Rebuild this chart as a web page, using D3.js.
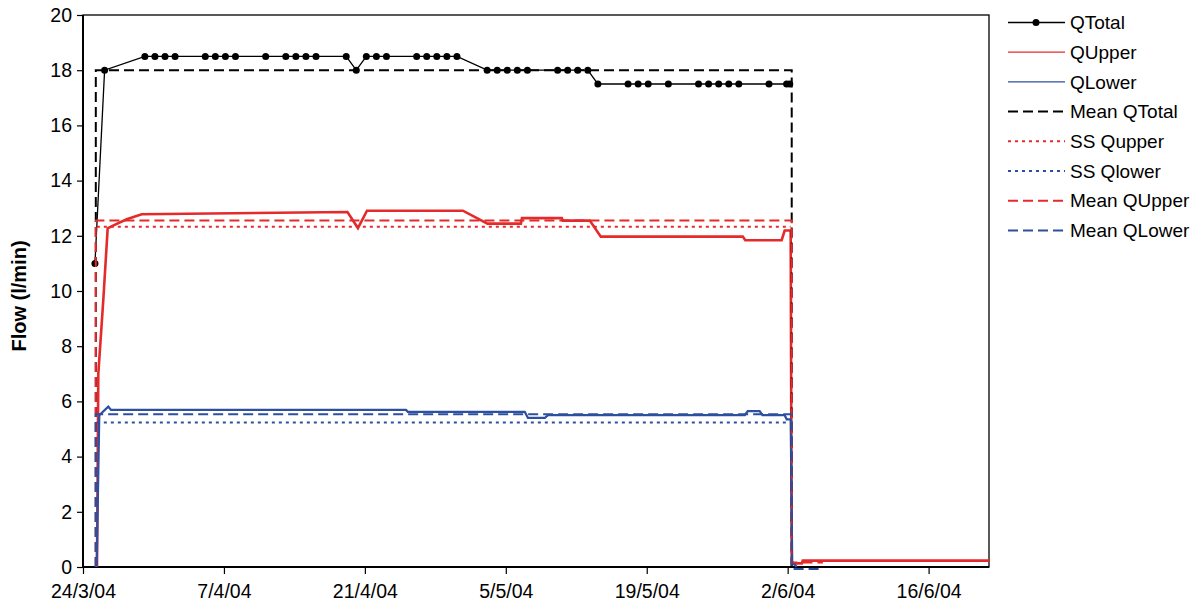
<!DOCTYPE html>
<html>
<head>
<meta charset="utf-8">
<script src="https://cdn.jsdelivr.net/npm/d3@7"></script>
<style>
  body { margin: 0; background: #fff; }
  text { font-family: "Liberation Sans", Arial, sans-serif; fill: #000; }
</style>
</head>
<body>
<div id="chart"></div>
<script>
// readings (date time, l/min)
const qTotal = [
  ["2004-03-25 04:30", 11.0], ["2004-03-26 03:30", 18.0], ["2004-03-30 03:30", 18.5],
  ["2004-03-31 03:30", 18.5], ["2004-04-01 03:30", 18.5], ["2004-04-02 03:30", 18.5],
  ["2004-04-05 03:30", 18.5], ["2004-04-06 03:30", 18.5], ["2004-04-07 03:30", 18.5],
  ["2004-04-08 03:30", 18.5], ["2004-04-11 03:30", 18.5], ["2004-04-13 03:30", 18.5],
  ["2004-04-14 03:30", 18.5], ["2004-04-15 03:30", 18.5], ["2004-04-16 03:30", 18.5],
  ["2004-04-19 03:30", 18.5], ["2004-04-20 03:30", 18.0], ["2004-04-21 03:30", 18.5],
  ["2004-04-22 03:30", 18.5], ["2004-04-23 03:30", 18.5], ["2004-04-26 03:30", 18.5],
  ["2004-04-27 03:30", 18.5], ["2004-04-28 03:30", 18.5], ["2004-04-29 03:30", 18.5],
  ["2004-04-30 03:30", 18.5], ["2004-05-03 03:30", 18.0], ["2004-05-04 03:30", 18.0],
  ["2004-05-05 03:30", 18.0], ["2004-05-06 03:30", 18.0], ["2004-05-07 03:30", 18.0],
  ["2004-05-10 03:30", 18.0], ["2004-05-11 03:30", 18.0], ["2004-05-12 03:30", 18.0],
  ["2004-05-13 03:30", 18.0], ["2004-05-14 03:30", 17.5], ["2004-05-17 03:30", 17.5],
  ["2004-05-18 03:30", 17.5], ["2004-05-19 03:30", 17.5], ["2004-05-21 03:30", 17.5],
  ["2004-05-24 03:30", 17.5], ["2004-05-25 03:30", 17.5], ["2004-05-26 03:30", 17.5],
  ["2004-05-27 03:30", 17.5], ["2004-05-28 03:30", 17.5], ["2004-05-31 03:30", 17.5],
  ["2004-06-01 21:30", 17.5], ["2004-06-02 05:00", 17.5]
];

const qUpper = [
  ["2004-03-25 09:20", 0], ["2004-03-25 12:30", 7.0], ["2004-03-26 00:30", 9.7],
  ["2004-03-26 10:50", 12.27], ["2004-03-26 23:30", 12.37], ["2004-03-28 08:10", 12.6],
  ["2004-03-29 20:00", 12.78], ["2004-04-19 06:30", 12.86], ["2004-04-20 07:30", 12.28],
  ["2004-04-21 05:00", 12.91], ["2004-04-30 17:45", 12.91], ["2004-05-03 04:20", 12.44],
  ["2004-05-06 12:00", 12.44], ["2004-05-06 14:30", 12.64], ["2004-05-10 13:40", 12.64],
  ["2004-05-10 16:00", 12.55], ["2004-05-13 08:20", 12.55], ["2004-05-14 10:30", 11.97],
  ["2004-05-28 13:00", 11.97], ["2004-05-28 19:00", 11.84], ["2004-06-01 09:40", 11.84],
  ["2004-06-01 16:50", 12.19], ["2004-06-02 07:10", 12.19], ["2004-06-02 09:40", 0.1],
  ["2004-06-02 21:40", 0.13], ["2004-06-03 09:40", 0.13], ["2004-06-03 12:00", 0.23],
  ["2004-06-22 01:40", 0.23]
];

const qLower = [
  ["2004-03-25 08:40", 0], ["2004-03-25 14:50", 5.5], ["2004-03-26 12:15", 5.81],
  ["2004-03-26 18:40", 5.69], ["2004-04-25 02:00", 5.69], ["2004-04-25 06:30", 5.62],
  ["2004-05-06 21:20", 5.62], ["2004-05-07 04:50", 5.4], ["2004-05-08 21:10", 5.4],
  ["2004-05-09 04:20", 5.5], ["2004-05-28 17:45", 5.5], ["2004-05-29 00:45", 5.65],
  ["2004-05-30 05:15", 5.65], ["2004-05-30 12:00", 5.5], ["2004-06-01 16:50", 5.5],
  ["2004-06-01 21:40", 5.35], ["2004-06-02 07:10", 5.35], ["2004-06-02 10:50", 0.2],
  ["2004-06-02 21:40", 0.0]
];

const meanQTotal = [
  ["2004-03-25 06:30", 0], ["2004-03-25 06:30", 18.0],
  ["2004-06-02 09:40", 18.0], ["2004-06-02 09:40", 0]
];
const ssQUpper = [["2004-03-25 09:00", 12.33], ["2004-06-02 07:00", 12.33]];
const ssQLower = [["2004-03-25 09:00", 5.24], ["2004-06-02 00:00", 5.24]];
const meanQUpper = [
  ["2004-03-25 06:30", 0], ["2004-03-25 06:30", 12.55], ["2004-06-02 09:40", 12.55],
  ["2004-06-02 09:40", 0.16], ["2004-06-05 12:00", 0.16]
];
const meanQLower = [
  ["2004-03-25 06:30", 0], ["2004-03-25 06:30", 5.53], ["2004-06-02 09:40", 5.53],
  ["2004-06-02 09:40", -0.07], ["2004-06-05 12:00", -0.07]
];

const xTicks = ["24/3/04", "7/4/04", "21/4/04", "5/5/04", "19/5/04", "2/6/04", "16/6/04"];
const yTicks = [0, 2, 4, 6, 8, 10, 12, 14, 16, 18, 20];
const xStart = "2004-03-24 00:00", xEnd = "2004-06-22 00:00";

const red = "#e42a2b", blue = "#2c4f9f";

const parseTime = d3.utcParse("%Y-%m-%d %H:%M");
const parseTick = d3.utcParse("%d/%m/%y");

const W = 1202, H = 604;
const plotL = 83, plotR = 989, plotT = 15, plotB = 567;

const svg = d3.select("#chart").append("svg")
  .attr("width", W).attr("height", H);

const x = d3.scaleUtc()
  .domain([parseTime(xStart), parseTime(xEnd)])
  .range([plotL, plotR]);
const y = d3.scaleLinear().domain([0, 20]).range([plotB, plotT]);

// frame
svg.append("rect")
  .attr("x", plotL).attr("y", plotT)
  .attr("width", plotR - plotL).attr("height", plotB - plotT)
  .attr("fill", "none").attr("stroke", "#000").attr("stroke-width", 1.3);

// axes
const yAxis = svg.append("g")
  .attr("transform", "translate(" + plotL + ",0)")
  .call(d3.axisLeft(y).tickValues(yTicks).tickSize(6).tickPadding(5));
const xAxis = svg.append("g")
  .attr("transform", "translate(0," + plotB + ")")
  .call(d3.axisBottom(x).tickValues(xTicks.map(parseTick))
    .tickFormat((d, i) => xTicks[i]).tickSize(7).tickPadding(10));
[yAxis, xAxis].forEach(g => {
  g.select(".domain").attr("stroke", "#000").attr("stroke-width", 2);
  g.selectAll(".tick line").attr("stroke", "#000").attr("stroke-width", 1.2);
  g.selectAll("text").attr("font-size", 19.5).attr("font-family", "Liberation Sans, Arial");
});
xAxis.select(".domain").attr("d", "M" + plotL + ",0H" + plotR);
yAxis.select(".domain").attr("d", "M0," + plotB + "V" + plotT);

svg.append("text")
  .attr("transform", "translate(26,296) rotate(-90)")
  .attr("text-anchor", "middle")
  .attr("font-size", 20).attr("font-weight", "bold")
  .text("Flow (l/min)");

const line = d3.line()
  .x(d => x(parseTime(d[0])))
  .y(d => y(d[1]));

const series = [
  { name: "QTotal", data: qTotal, color: "#000", width: 1.3, dash: null, marker: true },
  { name: "QUpper", data: qUpper, color: red, width: 2.6, dash: null, legendWidth: 1.3 },
  { name: "QLower", data: qLower, color: blue, width: 2.2, dash: null, legendWidth: 1.3 },
  { name: "Mean QTotal", data: meanQTotal, color: "#000", width: 2, dash: "10,5" },
  { name: "SS Qupper", data: ssQUpper, color: red, width: 2, dash: "3,4" },
  { name: "SS Qlower", data: ssQLower, color: blue, width: 2, dash: "3,4" },
  { name: "Mean QUpper", data: meanQUpper, color: red, width: 2, dash: "10,5" },
  { name: "Mean QLower", data: meanQLower, color: blue, width: 2, dash: "10,5" }
];

series.forEach(s => {
  svg.append("path")
    .datum(s.data)
    .attr("d", line)
    .attr("fill", "none")
    .attr("stroke", s.color)
    .attr("stroke-width", s.width)
    .attr("stroke-dasharray", s.dash);
  if (s.marker) {
    svg.selectAll(null)
      .data(s.data)
      .enter().append("circle")
      .attr("cx", d => x(parseTime(d[0])))
      .attr("cy", d => y(d[1]))
      .attr("r", 3.5)
      .attr("fill", s.color);
  }
});

// legend
const legend = svg.append("g");
series.forEach((s, i) => {
  const ly = 22.5 + i * 29.7;
  legend.append("line")
    .attr("x1", 1008).attr("x2", 1065)
    .attr("y1", ly).attr("y2", ly)
    .attr("stroke", s.color)
    .attr("stroke-width", s.legendWidth || s.width)
    .attr("stroke-dasharray", s.dash);
  if (s.marker) {
    legend.append("circle").attr("cx", 1036).attr("cy", ly).attr("r", 3.5).attr("fill", s.color);
  }
  legend.append("text")
    .attr("x", 1070).attr("y", ly)
    .attr("dy", "0.35em")
    .attr("font-size", 19)
    .text(s.name);
});
</script>
</body>
</html>
